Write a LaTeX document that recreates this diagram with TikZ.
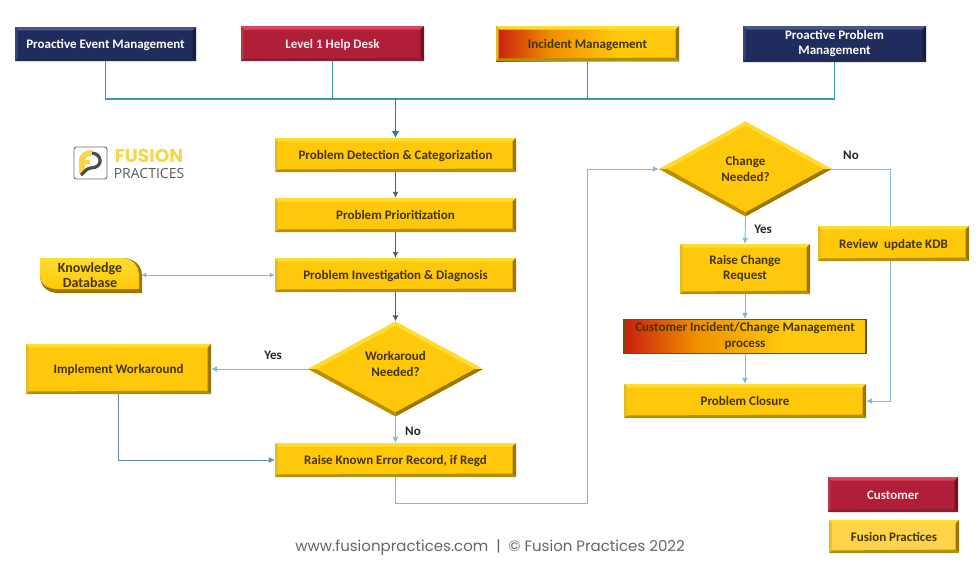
\documentclass[tikz,border=0pt]{standalone}
\usepackage{fontspec}
\setmainfont{Carlito}
\newfontfamily\footfont{Poppins}
\newfontfamily\logosans{Open Sans}
\usetikzlibrary{shapes.geometric,arrows.meta,calc,backgrounds}
\definecolor{navy}{HTML}{1F2C5C}
\definecolor{navyhi}{HTML}{4A5688}
\definecolor{navylo}{HTML}{141C3E}
\definecolor{crim}{HTML}{B01E38}
\definecolor{crimhi}{HTML}{D8475F}
\definecolor{crimlo}{HTML}{6E1224}
\definecolor{gold}{HTML}{FFC80A}
\definecolor{goldhi}{HTML}{FFDC30}
\definecolor{goldlo}{HTML}{9A7606}
\definecolor{pale}{HTML}{FFD44A}
\definecolor{inkdark}{HTML}{433500}
\definecolor{linelight}{HTML}{86B6D6}
\definecolor{linemid}{HTML}{5F8FA8}
\definecolor{linedark}{HTML}{4D5F6C}
\definecolor{linebus}{HTML}{3E94BE}
\definecolor{linemain}{HTML}{1F78B8}
\definecolor{logoyel}{HTML}{F8D648}
\definecolor{logogry}{HTML}{4A4A4A}
\definecolor{gradred}{HTML}{C81E10}
\definecolor{gradora}{HTML}{F09000}
\pgfdeclarehorizontalshading{custgrad}{100bp}{color(0bp)=(gradred); color(25bp)=(gradred); color(40bp)=(gradora); color(58bp)=(gold); color(100bp)=(gold)}
\tikzset{
  rectbevel/.style n args={2}{path picture={
    \coordinate (nw) at (path picture bounding box.north west);
    \coordinate (ne) at (path picture bounding box.north east);
    \coordinate (sw) at (path picture bounding box.south west);
    \coordinate (se) at (path picture bounding box.south east);
    \fill[#1] (nw) -- (ne) -- ($(ne)+(-3.5pt,-3.5pt)$) -- ($(nw)+(3.5pt,-3.5pt)$) -- cycle;
    \fill[#1!70!#2] (nw) -- (sw) -- ($(sw)+(2.5pt,2.5pt)$) -- ($(nw)+(2.5pt,-2.5pt)$) -- cycle;
    \fill[#2] (ne) -- (se) -- ($(se)+(-3.5pt,3.5pt)$) -- ($(ne)+(-3.5pt,-3.5pt)$) -- cycle;
    \fill[#2!75!#1] (sw) -- (se) -- ($(se)+(-3.5pt,3.5pt)$) -- ($(sw)+(2.5pt,2.5pt)$) -- cycle;
  }},
  strutted/.style={execute at begin node={\rule[-3pt]{0pt}{15pt}}},
  flowbox/.style n args={2}{rectangle,minimum width=#1,minimum height=#2,inner sep=0pt,align=center,strutted,
    font=\bfseries\fontsize{13}{15.5}\selectfont,text=inkdark,fill=gold,rectbevel={goldhi}{goldlo}},
  navybox/.style n args={2}{flowbox={#1}{#2},fill=navy,text=white,rectbevel={navyhi}{navylo}},
  redbox/.style n args={2}{flowbox={#1}{#2},fill=crim,text=white!92!crim,rectbevel={crimhi}{crimlo}},
  palebox/.style n args={2}{flowbox={#1}{#2},fill=pale,rectbevel={goldhi}{goldlo}},
  gradbox/.style n args={2}{rectangle,minimum width=#1,minimum height=#2,inner sep=0pt,align=center,strutted,
    font=\bfseries\fontsize{13}{15.5}\selectfont,text=inkdark,
    shading=custgrad,shading angle=0},
  decision/.style n args={2}{diamond,aspect=1.84,minimum width=#1,minimum height=#2,inner sep=0pt,align=center,
    font=\bfseries\fontsize{13}{15.5}\selectfont,text=inkdark,fill=gold,path picture={
    \coordinate (dn) at (path picture bounding box.north);
    \coordinate (ds) at (path picture bounding box.south);
    \coordinate (de) at (path picture bounding box.east);
    \coordinate (dw) at (path picture bounding box.west);
    \fill[goldhi] (dw) -- (dn) -- ($(dn)+(0,-4pt)$) -- ($(dw)+(8pt,0)$) -- cycle;
    \fill[goldhi] (dn) -- (de) -- ($(de)+(-8pt,0)$) -- ($(dn)+(0,-4pt)$) -- cycle;
    \fill[goldlo] (de) -- (ds) -- ($(ds)+(0,4pt)$) -- ($(de)+(-8pt,0)$) -- cycle;
    \fill[goldlo!70!gold] (ds) -- (dw) -- ($(dw)+(8pt,0)$) -- ($(ds)+(0,4pt)$) -- cycle;
  }},
  dectext/.style={inner sep=0pt,align=center,font=\bfseries\fontsize{13}{16}\selectfont,text=inkdark},
  lbl/.style={font=\bfseries\fontsize{13}{14}\selectfont,text=black!85},
  conn/.style={line width=0.9pt,-{Latex[length=6pt,width=6pt]}},
  plainconn/.style={line width=1.2pt},
}
\begin{document}
\begin{tikzpicture}[x=1pt,y=-1pt]
\useasboundingbox (0,0) rectangle (980,568);

% top sources
\node[navybox={181pt}{34pt}] (pem) at (105.5,44) {Proactive Event Management};
\node[redbox={183pt}{35pt}] (l1) at (332.5,43.5) {Level 1 Help Desk};
\node[gradbox={183pt}{35pt},rectbevel={goldhi}{goldlo}] (inc) at (587.5,43.5) {Incident Management};
\node[navybox={183pt}{36pt}] (ppm) at (834.5,44) {Proactive Problem\\Management};

% main column
\node[flowbox={241pt}{34pt}] (det) at (395.5,155) {Problem Detection \& Categorization};
\node[flowbox={241pt}{34pt}] (pri) at (395.5,215) {Problem Prioritization};
\node[flowbox={241pt}{34pt}] (inv) at (395.5,275) {Problem Investigation \& Diagnosis};
\node[decision={175pt}{95pt}] (wk) at (395.5,369) {};
\node[dectext] (wkt) at (395.5,363.5) {Workaroud\\Needed?};
\node[flowbox={241pt}{34pt}] (kerr) at (395.5,460) {Raise Known Error Record, if Regd};
\node[flowbox={185pt}{50pt}] (impl) at (118.5,369) {Implement Workaround};

% knowledge database
\fill[goldlo] (40,258) -- (122,258) .. controls (134,258) and (142,265) .. (142,276) -- (142,293) -- (58,293) .. controls (47,293) and (40,286) .. (40,275) -- cycle;
\shade[top color=goldhi,bottom color=gold] (40,258) -- (121,258) .. controls (132,258) and (139,265) .. (139,276) -- (139,289) -- (58,289) .. controls (47,289) and (40,284) .. (40,275) -- cycle;
\node[inner sep=0pt,minimum width=102pt,minimum height=35pt,align=center,font=\bfseries\fontsize{14}{15.5}\selectfont,text=inkdark] (kdb) at (90,275) {Knowledge\\Database};

% right column
\node[decision={173pt}{95pt}] (chg) at (745.5,169) {Change\\Needed?};
\node[flowbox={130pt}{50pt}] (req) at (745,269) {Raise Change\\Request};
\node[gradbox={242pt}{34pt},draw=goldlo!70!black,line width=1.3pt] (cust) at (745,336.5) {Customer Incident/Change Management\\process};
\node[flowbox={242pt}{34pt}] (close) at (745,401) {Problem Closure};
\node[flowbox={151pt}{35pt}] (rev) at (893.5,243.5) {Review\ \ update KDB};

% legend
\node[redbox={130pt}{35pt}] (lgc) at (893,494.5) {Customer};
\node[palebox={130pt}{33pt}] (lgf) at (894,536.5) {Fusion Practices};

% junctions
\coordinate (bus) at (395.5,99);
\coordinate (lowturn) at (587,503);
\coordinate (rightturn) at (890,169);

\begin{pgfonlayer}{background}
\fill[white] (0,0) rectangle (980,568);
\draw[plainconn,linebus] (pem.south) |- (bus);
\draw[plainconn,linebus] (l1.south) |- (bus);
\draw[plainconn,linebus] (inc.south) |- (bus);
\draw[plainconn,linebus] (ppm.south) |- (bus);
\draw[line width=1.5pt,linemain,-{Latex[length=7pt,width=8pt]}] (bus) -- (det.north);
\draw[conn,linedark] (det) -- (pri);
\draw[conn,linedark] (pri) -- (inv);
\draw[conn,linedark] (inv) -- (wk.north);
\draw[conn,linelight,{Latex[length=5pt,width=5pt]}-{Latex[length=5pt,width=5pt]}] (kdb.east) -- (inv.west);
\draw[conn,linelight] (wk.west) -- (impl.east);
\draw[conn,linelight] (wk.south) -- (kerr.north);
\draw[conn,linemid] (impl.south) |- (kerr.west);
\draw[conn,linelight] (kerr.south) |- (lowturn) |- (chg.west);
\draw[conn,linelight] (chg.south) -- (req.north);
\draw[conn,linelight] (req.south) -- (cust.north);
\draw[conn,linelight] (cust.south) -- (close.north);
\draw[conn,linelight] (chg.east) -- (rightturn) |- (close.east);
\end{pgfonlayer}

% labels
\node[lbl] (yesa) at (273,355) {Yes};
\node[lbl] (noa) at (413,431) {No};
\node[lbl] (yesb) at (763,229) {Yes};
\node[lbl] (nob) at (851,155) {No};

% logo
\draw[logogry!80,line width=0.9pt,rounded corners=2.5pt,fill=white] (74,147) rectangle (107,179);
\fill[logoyel] (79,174) -- (79,160) .. controls (79,154) and (85,150) .. (92,150) -- (91,156) -- (87,157) -- (85,160) -- (90,160) -- (90,164) -- (85,164) -- (85,169) -- cycle;
\draw[logogry,line width=3.2pt] (92,153) .. controls (103,154) and (103,168) .. (91,168) .. controls (88,168) and (86,170) .. (81,175);
\node[font=\footfont\bfseries\fontsize{18.5}{20}\selectfont,text=logoyel,inner sep=0pt] (lf) at (149,156) {FUSION};
\node[font=\logosans\fontsize{14}{15}\selectfont,text=logogry!90,inner sep=0pt] (lp) at (149,173) {PRACTICES};

% footer
\node[font=\footfont\fontsize{15}{16}\selectfont,text=black!60,inner sep=0pt] (foot) at (490,547) {www.fusionpractices.com\ \ |\ \ © Fusion Practices 2022};
\end{tikzpicture}
\end{document}
